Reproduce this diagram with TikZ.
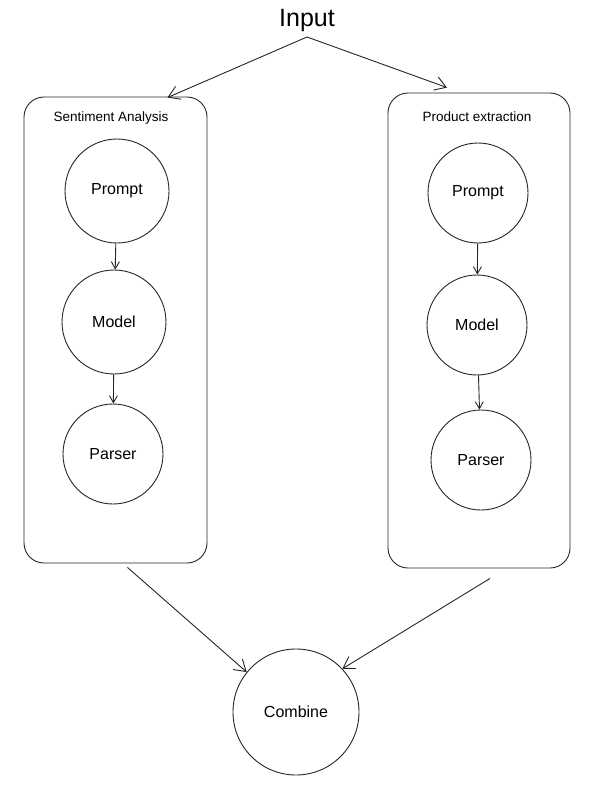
\documentclass[tikz,border=0pt]{standalone}
\usepackage{fontspec}
\setmainfont{Liberation Sans}
\usetikzlibrary{arrows.meta,calc}
\begin{document}
\begin{tikzpicture}[x=1pt,y=-1pt,
  line width=0.9pt, draw=black!85,
  circ/.style={draw, circle, inner sep=0pt, font=\fontsize{16}{19}\selectfont},
  grp/.style={draw, rectangle, rounded corners=20pt, inner sep=0pt},
  ttl/.style={font=\fontsize{13.5}{16}\selectfont},
  bigarr/.style={-{Straight Barb[length=11pt,width=14pt]}},
  smallarr/.style={-{Straight Barb[length=7pt,width=8pt]}}]
\useasboundingbox (0,0) rectangle (596,796);
\fill[white] (0,0) rectangle (596,796);

\node[font=\fontsize{25}{30}\selectfont] (inp) at (307,20) {Input};

\node[grp, minimum width=183pt, minimum height=466pt] (lbox) at (115.5,330) {};
\node[grp, minimum width=182pt, minimum height=475pt] (rbox) at (479,330.5) {};
\node[ttl] (lt) at (111,118) {Sentiment Analysis};
\node[ttl] (rt) at (477,117) {Product extraction};

\node[circ, minimum size=104pt] (lp) at (117,191) {Prompt};
\node[circ, minimum size=104pt] (lm) at (114,322) {Model};
\node[circ, minimum size=100pt] (lr) at (113,454) {Parser};

\node[circ, minimum size=100pt] (rp) at (478,193) {Prompt};
\node[circ, minimum size=100pt] (rm) at (477,325) {Model};
\node[circ, minimum size=100pt] (rr) at (481,460) {Parser};

\node[circ, minimum size=126pt] (comb) at (296,712) {Combine};

\coordinate (lin) at ([xshift=52pt,yshift=-1pt]lbox.north);
\coordinate (rin) at ([xshift=-32pt,yshift=5pt]rbox.north);
\coordinate (lout) at ([xshift=12pt,yshift=-4pt]lbox.south);
\coordinate (rout) at ([xshift=11pt,yshift=-10pt]rbox.south);

\draw[bigarr] ([yshift=-2pt]inp.south) -- (lin);
\draw[bigarr] ([yshift=-2pt]inp.south) -- (rin);

\draw[smallarr] (lp) -- (lm);
\draw[smallarr] (lm) -- (lr);
\draw[smallarr] (rp) -- (rm);
\draw[smallarr] (rm) -- (rr);

\draw[bigarr] (lout) -- (comb.141);
\draw[bigarr] (rout) -- (comb.43);
\end{tikzpicture}
\end{document}
